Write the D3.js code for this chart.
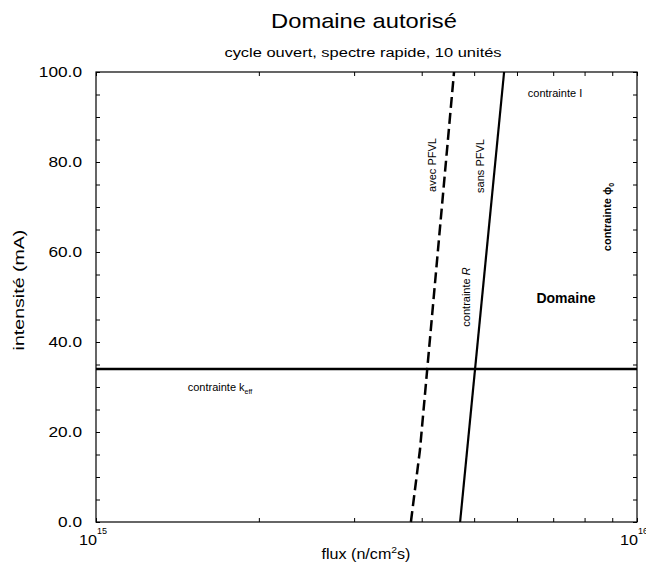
<!DOCTYPE html>
<html lang="fr">
<head>
<meta charset="utf-8">
<script src="https://d3js.org/d3.v7.min.js"></script>
<style>
  body { margin: 0; background: #fff; }
  text { font-family: "Liberation Sans", Arial, sans-serif; fill: #000; }
</style>
</head>
<body>
<script>
    // constraint lines (flux in n/cm2s, intensity in mA)
    var avecFlux = [3.82e15, 3.97e15, 4.59e15];
    var avecI    = [0, 16, 100];
    var sansFlux = [4.71e15, 5.68e15];
    var sansI    = [0, 100];
    var keffI    = 34;

    var yTicks = [0, 20, 40, 60, 80, 100];
    var yMinor = d3.range(0, 101, 5);
    var xMinor = [2e15, 3e15, 4e15, 5e15, 6e15, 7e15, 8e15, 9e15];
    var xMajor = [1e15, 1e16];

    var width = 646, height = 567;
    var margin = {top: 72, right: 9, bottom: 45, left: 96};

    var svg = d3.select("body").append("svg")
        .attr("width", width)
        .attr("height", height);

    var x = d3.scaleLog()
        .domain([1e15, 1e16])
        .range([margin.left, width - margin.right]);
    var y = d3.scaleLinear()
        .domain([0, 100])
        .range([height - margin.bottom, margin.top]);

    // the original lettering is a bit wider than Arial along the text
    function place(px, py, rot, sx) {
        return "translate(" + px + "," + py + ")" + (rot ? " rotate(" + rot + ")" : "") +
            (sx ? " scale(" + sx + ",1)" : "");
    }

    // frame
    svg.append("rect")
        .attr("x", x.range()[0]).attr("y", y.range()[1])
        .attr("width", x.range()[1] - x.range()[0])
        .attr("height", y.range()[0] - y.range()[1])
        .attr("fill", "none").attr("stroke", "#000").attr("stroke-width", 1.2);

    // inward ticks on all four sides
    function ticks(axis, scale, values, tr) {
        svg.append("g")
            .attr("transform", tr)
            .call(axis(scale).tickValues(values).tickSize(-4).tickFormat(""))
            .call(function(g) { g.select(".domain").remove(); });
    }
    ticks(d3.axisBottom, x, xMinor.concat(xMajor), "translate(0," + y(0) + ")");
    ticks(d3.axisTop, x, xMinor.concat(xMajor), "translate(0," + y(100) + ")");
    ticks(d3.axisLeft, y, yMinor, "translate(" + x(1e15) + ",0)");
    ticks(d3.axisRight, y, yMinor, "translate(" + x(1e16) + ",0)");

    // y tick labels
    svg.selectAll(".ylab").data(yTicks).enter().append("text")
        .attr("class", "ylab")
        .attr("transform", function(d) { return place(x(1e15) - 14, y(d), 0, 1.15); })
        .attr("dy", "0.35em")
        .attr("text-anchor", "end")
        .style("font-size", "15px")
        .text(function(d) { return d3.format(".1f")(d); });

    // x tick labels 10^15, 10^16
    svg.selectAll(".xlab").data(xMajor).enter().append("text")
        .attr("class", "xlab")
        .attr("transform", function(d) { return place(x(d) + 1, y(0) + 23, 0, 1.08); })
        .attr("text-anchor", "end")
        .style("font-size", "15px")
        .text("10");
    svg.selectAll(".xexp").data(xMajor).enter().append("text")
        .attr("x", function(d) { return x(d) + 1; })
        .attr("y", y(0) + 12)
        .style("font-size", "9px")
        .text(function(d) { return Math.round(Math.log10(d)); });

    // titles
    svg.append("text")
        .attr("transform", place(364, 28, 0, 1.13))
        .attr("text-anchor", "middle")
        .style("font-size", "21px")
        .text("Domaine autorisé");
    svg.append("text")
        .attr("transform", place(363, 57, 0, 1.22))
        .attr("text-anchor", "middle")
        .style("font-size", "13.5px")
        .text("cycle ouvert, spectre rapide, 10 unités");

    // axis titles
    var xt = svg.append("text")
        .attr("transform", place(366, 559, 0, 1.15))
        .attr("text-anchor", "middle")
        .style("font-size", "14px");
    xt.append("tspan").text("flux (n/cm");
    xt.append("tspan").attr("dy", -6).style("font-size", "9px").text("2");
    xt.append("tspan").attr("dy", 6).text("s)");

    svg.append("text")
        .attr("transform", place(24, 290, -90, 1.4))
        .attr("text-anchor", "middle")
        .style("font-size", "14px")
        .text("intensité (mA)");

    // constraint lines
    var line = d3.line()
        .x(function(d) { return x(d[0]); })
        .y(function(d) { return y(d[1]); });

    svg.append("path")
        .datum(d3.zip(avecFlux, avecI))
        .attr("d", line)
        .attr("fill", "none").attr("stroke", "#000")
        .attr("stroke-width", 2.5)
        .attr("stroke-dasharray", "11,5");

    svg.append("path")
        .datum(d3.zip(sansFlux, sansI))
        .attr("d", line)
        .attr("fill", "none").attr("stroke", "#000")
        .attr("stroke-width", 2.2);

    svg.append("line")
        .attr("x1", x(1e15)).attr("x2", x(1e16))
        .attr("y1", y(keffI)).attr("y2", y(keffI))
        .attr("stroke", "#000").attr("stroke-width", 2.5);

    // annotations
    function note(px, py, rot, size, weight) {
        return svg.append("text")
            .attr("transform", place(px, py, rot))
            .attr("text-anchor", "middle")
            .style("font-size", size + "px")
            .style("font-weight", weight || "normal");
    }
    note(555, 97, 0, 11).text("contrainte I");
    note(436, 165, -90, 11).text("avec PFVL");
    note(484, 166, -90, 11).text("sans PFVL");
    var r = note(470, 297, -90, 11);
    r.append("tspan").text("contrainte ");
    r.append("tspan").style("font-style", "italic").text("R");
    note(566, 303, 0, 14, "bold").text("Domaine");
    var p = note(611, 217, -90, 11, "bold");
    p.append("tspan").text("contrainte \u03d5");
    p.append("tspan").attr("dy", 3).style("font-size", "7px").text("0");
    var k = note(220, 391, 0, 11);
    k.append("tspan").text("contrainte k");
    k.append("tspan").attr("dy", 3).style("font-size", "7px").text("eff");
</script>
</body>
</html>
